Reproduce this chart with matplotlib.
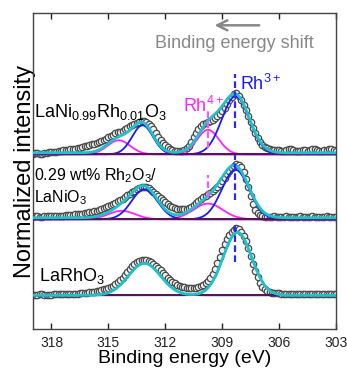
import numpy as np
import matplotlib
matplotlib.use("Agg")
from matplotlib import pyplot as plt

plt.rcParams["font.family"] = ["Liberation Sans", "DejaVu Sans"]
plt.rcParams["mathtext.default"] = "regular"

# Rh 3d5/2 region, energies sampled every 0.125 eV (319 -> 303)
energy = np.linspace(319, 303, 129)

# measured intensities (arb. units, above each baseline), read from picture
# one row per eV
ni_rh_data = [0, 1, 1, 0, 0, 1, 1, 2,
              2, 2, 2, 3, 3, 4, 4, 4,
              5, 5, 5, 6, 6, 7, 8, 8,
              9, 10, 10, 11, 12, 13, 14, 15,
              17, 18, 19, 21, 22, 22, 23, 25,
              26, 28, 29, 30, 31, 32, 33, 33,
              32, 30, 28, 25, 21, 17, 14, 11,
              9, 7, 5, 4, 3, 3, 3, 3,
              4, 6, 8, 12, 17, 21, 25, 28,
              30, 31, 32, 33, 34, 36, 38, 40,
              43, 46, 50, 54, 57, 60, 61, 58,
              54, 49, 44, 38, 32, 26, 21, 16,
              12, 9, 7, 6, 5, 4, 4, 4,
              4, 3, 3, 4, 5, 5, 4, 3,
              3, 3, 4, 4, 3, 4, 5, 5,
              4, 3, 3, 4, 4, 5, 5, 4,
              3]
rh2o3_data = [2, 3, 3, 2, 2, 3, 3, 3,
              3, 3, 3, 3, 3, 3, 4, 4,
              4, 4, 5, 5, 5, 5, 6, 6,
              7, 7, 8, 8, 9, 10, 11, 12,
              13, 14, 15, 16, 18, 19, 20, 22,
              24, 25, 27, 28, 30, 31, 32, 32,
              32, 31, 29, 27, 25, 23, 21, 19,
              17, 15, 13, 12, 11, 10, 10, 10,
              10, 10, 11, 12, 14, 16, 18, 20,
              22, 23, 25, 26, 28, 30, 32, 35,
              38, 41, 45, 48, 51, 53, 55, 54,
              52, 47, 40, 32, 23, 15, 9, 6,
              4, 3, 2, 2, 2, 2, 3, 2,
              2, 2, 2, 3, 2, 2, 2, 2,
              2, 3, 2, 2, 2, 2, 3, 2,
              2, 2, 2, 2, 3, 2, 2, 2,
              2]
larho3_data = [0, 0, 0, 1, 1, 0, 0, 0,
               0, 1, 1, 1, 1, 1, 1, 1,
               1, 1, 1, 1, 2, 2, 2, 2,
               3, 3, 3, 4, 4, 5, 6, 6,
               7, 8, 9, 11, 13, 15, 17, 20,
               23, 26, 29, 31, 33, 34, 35, 35,
               35, 34, 33, 31, 29, 27, 25, 22,
               20, 17, 15, 13, 12, 10, 9, 8,
               8, 7, 7, 7, 7, 7, 8, 9,
               10, 12, 14, 17, 21, 26, 32, 38,
               45, 51, 56, 60, 63, 65, 67, 66,
               63, 59, 54, 47, 39, 31, 24, 18,
               12, 8, 6, 4, 3, 2, 2, 2,
               2, 1, 1, 1, 1, 1, 1, 1,
               1, 1, 1, 1, 1, 1, 1, 1,
               1, 1, 1, 1, 1, 1, 1, 1,
               1]

# fitted components: (centre eV, height, sigma eV)
ni_rh_rh3 = [(313.2, 29, 0.55), (308.3, 58, 0.72)]
ni_rh_rh4 = [(314.45, 14, 0.6), (309.75, 24.5, 0.58)]
rh2o3_rh3 = [(313.1, 30, 0.68), (308.3, 49.5, 0.72)]
rh2o3_rh4 = [(314.3, 8.5, 0.7), (309.75, 15.7, 0.78)]
larho3_rh3 = [(313.1, 32, 0.85), (308.2, 63, 0.75)]
larho3_rh4 = []
fit_background = [1.5, 1.5, 0]

# vertical offsets of the stacked spectra
offsets = [175, 110, 34]

# Rh3+ / Rh4+ marker lines: (low, high) above baseline
rh3_pos = 308.3
rh4_pos = 309.75
rh3_marks = [(26, 80), (19, 64), (33, 71)]
rh4_marks = [(6.5, 43), (21, 44), None]

datasets = [ni_rh_data, rh2o3_data, larho3_data]
rh3_sets = [ni_rh_rh3, rh2o3_rh3, larho3_rh3]
rh4_sets = [ni_rh_rh4, rh2o3_rh4, larho3_rh4]


def peak(x, centre, height, width):
    return height * np.exp(-(x - centre) ** 2 / (2 * width ** 2))


fig = plt.figure(figsize=(3.47, 3.74), dpi=100)
ax = fig.add_axes([0.0937, 0.1195, 0.8746, 0.8449])

grid = np.linspace(319, 303, 800)

for i in range(3):
    off = offsets[i]
    ax.plot(energy, np.array(datasets[i]) + off, "o", ms=4.6, mfc="#f2f2f2",
            mec="#4a4a4a", mew=0.9, zorder=1)
    total = np.full_like(grid, off + fit_background[i])
    for c, h, w in rh4_sets[i]:
        comp = peak(grid, c, h, w)
        ax.plot(grid, comp + off, color="#ff22ff", lw=1.3, zorder=3)
        total += comp
    for c, h, w in rh3_sets[i]:
        comp = peak(grid, c, h, w)
        ax.plot(grid, comp + off, color="#1a1aff", lw=1.3, zorder=3)
        total += comp
    ax.axhline(off, color="#5a1450", lw=1.4, zorder=4)
    ax.plot(grid, total, color="#1ec3c8", lw=2, zorder=5)

    lo, hi = rh3_marks[i]
    ax.vlines(rh3_pos, off + lo, off + hi, color="#2a2aff", lw=1.6,
              linestyles=(0, (3, 1.5)), zorder=6)
    if rh4_marks[i] is not None:
        lo, hi = rh4_marks[i]
        ax.vlines(rh4_pos, off + lo, off + hi, color="#ff55ff", lw=1.6,
                  linestyles=(0, (3, 1.5)), zorder=6)

# labels
ax.text(318.9, 212, "LaNi$_{0.99}$Rh$_{0.01}$O$_3$", fontsize=13, va="baseline")
ax.text(318.9, 149, "0.29 wt% Rh$_2$O$_3$/", fontsize=11.5, va="baseline")
ax.text(318.9, 127.5, "LaNiO$_3$", fontsize=11.5, va="baseline")
ax.text(318.65, 48.5, "LaRhO$_3$", fontsize=13, va="baseline")
ax.text(311.08, 217, "Rh$^{4+}$", fontsize=13, color="#ff22ff", va="baseline")
ax.text(308.07, 239, "Rh$^{3+}$", fontsize=13, color="#1a1aff", va="baseline")

ax.annotate("", xy=(309.55, 304), xytext=(306.9, 304),
            arrowprops=dict(arrowstyle="->", color="#888888", lw=1.8,
                            mutation_scale=18))
ax.text(308.34, 286, "Binding energy shift", fontsize=13, color="#888888",
        ha="center", va="center")

ax.set_xlim(319, 303)
ax.set_ylim(0, 316)
ax.set_xticks([318, 315, 312, 309, 306, 303])
ax.set_yticks([])
ax.tick_params(axis="x", direction="in", top=True, length=4, width=1,
               labelsize=10, pad=5, colors="#222222")
for s in ax.spines.values():
    s.set_color("#444444")
    s.set_linewidth(1)

ax.set_xlabel("Binding energy (eV)", fontsize=14, labelpad=0)
ax.set_ylabel("Normalized intensity", fontsize=17)
ax.yaxis.set_label_coords(0.01, 0.5)

fig.savefig("out.png", dpi=100)
